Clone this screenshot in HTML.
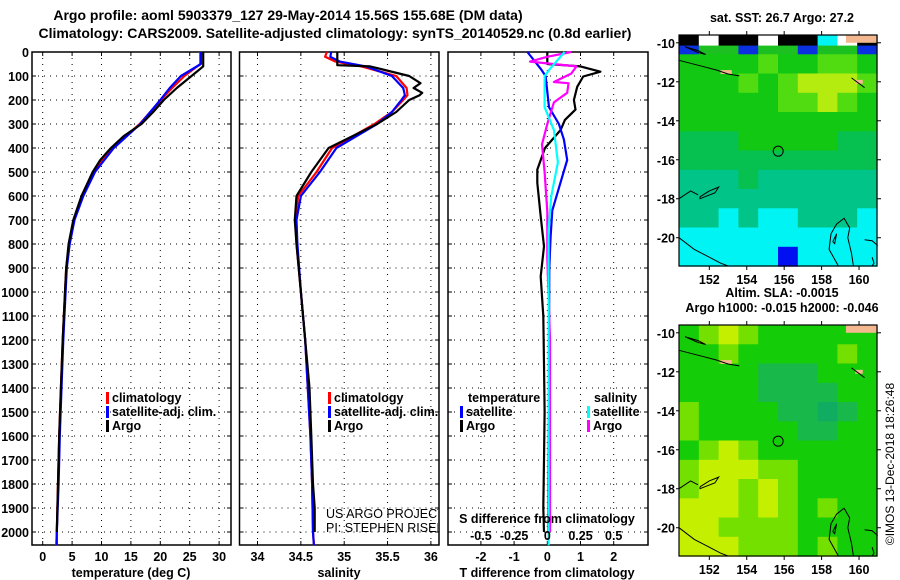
<!DOCTYPE html>
<html><head><meta charset="utf-8"><title>Argo profile</title>
<style>
html,body{margin:0;padding:0;background:#fff;}
svg{display:block;font-family:"Liberation Sans",Arial,sans-serif;}
.b{font-weight:bold;font-size:12.5px;}
.t{font-weight:bold;font-size:14px;}
</style></head>
<body>
<svg id="chart" width="900" height="580" viewBox="0 0 900 580" xmlns="http://www.w3.org/2000/svg">
<text class="t" x="288" y="20" text-anchor="middle">Argo profile: aoml 5903379_127 29-May-2014 15.56S 155.68E (DM data)</text>
<text class="t" x="335" y="38" text-anchor="middle">Climatology: CARS2009. Satellite-adjusted climatology: synTS_20140529.nc (0.8d earlier)</text>
<g id="p1"></g>
<g id="p2"></g>
<g id="p3"></g>
<g id="m1"></g>
<g id="m2"></g>
<text x="894" y="464" font-size="12" text-anchor="middle" transform="rotate(-90 894 464)">©IMOS 13-Dec-2018 18:26:48</text>
</svg>
<script>
// ---- depth profiles (depth m, value) ----
const argoTDepth = [0,60,70,100,150,200,250,300,350,400,450,500,600,700,800,900,1000,1200,1400,1600,1800,1900,2000];
const argoTVal   = [27.3,27.3,26.8,25.3,22.8,20.6,18.8,16.8,13.8,11.6,9.8,8.5,6.6,5.2,4.4,4.0,3.8,3.4,3.1,2.8,2.6,2.5,2.4];
const climTDepth = [0,50,100,150,200,250,300,400,500,600,700,800,900,1000,1200,1400,1600,1800,2000,2055];
const climTVal   = [26.8,26.8,24.1,22.0,20.1,18.3,16.5,11.8,8.6,6.7,5.3,4.5,4.0,3.8,3.4,3.1,2.8,2.6,2.4,2.3];
const satTVal    = [26.9,26.9,23.5,21.6,20.0,18.3,16.6,12.1,8.9,6.9,5.4,4.6,4.1,3.9,3.5,3.2,2.9,2.7,2.4,2.4];
const argoSDepth = [0,20,55,60,100,130,150,170,180,200,250,300,400,500,600,700,800,1000,1200,1400,1600,1800,1900,2000];
const argoSVal   = [34.92,34.92,34.92,35.3,35.75,35.88,35.8,35.9,35.87,35.75,35.6,35.38,34.82,34.62,34.45,34.43,34.45,34.5,34.55,34.6,34.62,34.64,34.66,34.66];
const climSDepth = [0,20,40,60,100,150,180,200,250,300,400,500,600,700,800,1000,1200,1400,1600,1800,2000,2055];
const climSVal   = [34.8,34.78,34.9,35.2,35.6,35.72,35.73,35.68,35.55,35.35,34.86,34.68,34.47,34.44,34.45,34.5,34.55,34.58,34.61,34.63,34.64,34.65];
const satSVal    = [34.85,34.84,34.95,35.25,35.55,35.68,35.7,35.66,35.55,35.38,34.91,34.72,34.5,34.45,34.46,34.5,34.55,34.58,34.61,34.63,34.64,34.65];
// ---- differences ----
const dTArgoDepth = [0,50,60,82,102,145,200,240,283,325,400,490,545,685,810,935,1100,1300,1500,1700,1900,2000];
const dTArgoVal   = [0,0,1.0,1.6,1.08,0.9,0.8,0.85,0.53,0.4,-0.07,-0.3,-0.3,-0.2,-0.1,-0.2,-0.12,-0.1,-0.08,-0.1,-0.12,-0.1];
const dTSatDepth  = [0,70,100,230,300,365,450,520,660,770,900,1200,1500,1800,2000];
const dTSatVal    = [-0.6,-0.2,-0.05,0.05,0.35,0.5,0.6,0.45,0.15,0.1,0.06,0.05,0.04,0.03,0.03];
const dSArgoDepth = [0,20,40,60,90,125,130,170,210,300,385,500,665,860,1200,1600,2000];
const dSArgoVal   = [0.18,0.0,-0.13,0.22,0.18,0.05,0.16,0.15,0.05,0.0,-0.04,-0.02,0.0,0.0,0.02,0.02,0.02];
const dSSatDepth  = [0,70,100,230,325,460,600,740,1000,1500,2000,2055];
const dSSatVal    = [0.13,0.02,-0.02,-0.02,0.05,0.08,0.03,0.01,0.01,0.01,0.01,0.01];
// ---- ticks ----
const depthTicks = [0,100,200,300,400,500,600,700,800,900,1000,1100,1200,1300,1400,1500,1600,1700,1800,1900,2000];
const tempTicks = [0,5,10,15,20,25,30];
const salTicks = [34,34.5,35,35.5,36];
const salTickLabels = ["34","34.5","35","35.5","36"];
const dTTicks = [-2,-1,0,1,2];
const dSTicks = [-0.5,-0.25,0,0.25,0.5];
const dSTickLabels = ["-0.5","-0.25","0","0.25","0.5"];
const lonTicks = [152,154,156,158,160];
const latTicks = [-10,-12,-14,-16,-18,-20];
// ---- map cells (codes per row, 1 deg lat rows) ----
const sstRows = ["KWKKWKKCWK","GGGGLGGLLG","GGGLGLYYYL","GGGGGLLYLG","GGGGGGGGGG","MMMGGGGGMM","MMMMMMMMMM","TTTMTTTTTT","TTTTTTTTTT","TTCTCCTTTC","CCCCCCCCCC","CCCCCBCCCC"];
const slaRows = ["GLYLGGGGGG","GGLGGGGGLG","GGGGMMMGGG","GGGGMMMMGG","LGGGGMMTMG","LGGGGGMMGG","GLYLGGGGGG","LYYYLLGGGG","LYYLYLGGGG","YYYLYLGLGG","YYLLLLGGGG","YYYLLLGLGG"];

const NS='http://www.w3.org/2000/svg';
function mk(parent,tag,attrs){const e=document.createElementNS(NS,tag);for(const k in attrs)e.setAttribute(k,attrs[k]);parent.appendChild(e);return e;}
const yD = d => 52 + d*0.24;
const xT = t => 42.7 + t*5.88;
const xS = s => 257.5 + (s-34)*86.7;
const xDT = t => 547.3 + t*33.2;
const xDS = s => 547.3 + s*132.8;
const TOP=52, BOT=545;

function frame(g,x0,x1,vticks,xf,showDepth){
  for(const d of depthTicks){
    const l=mk(g,'line',{x1:x0,x2:x1,y1:yD(d),y2:yD(d),stroke:'#000','stroke-width':1,'stroke-dasharray':'1 5'});
    
    
    mk(g,'line',{x1:x0,x2:x0+4,y1:yD(d),y2:yD(d),stroke:'#000'});
    mk(g,'line',{x1:x1-4,x2:x1,y1:yD(d),y2:yD(d),stroke:'#000'});
    if(showDepth){const t=mk(g,'text',{x:29,y:yD(d)+5,'text-anchor':'end',class:'b'});t.textContent=d;
      
      }
  }
  for(const v of vticks){
    const l=mk(g,'line',{x1:xf(v),x2:xf(v),y1:TOP,y2:BOT,stroke:'#000','stroke-width':1,'stroke-dasharray':'1 5'});
    
    
    mk(g,'line',{x1:xf(v),x2:xf(v),y1:BOT-4,y2:BOT,stroke:'#000'});
    mk(g,'line',{x1:xf(v),x2:xf(v),y1:TOP,y2:TOP+4,stroke:'#000'});
  }
  const r=mk(g,'rect',{x:x0,y:TOP,width:x1-x0,height:BOT-TOP,fill:'none',stroke:'#000','stroke-width':1.5});
  
  
}
function line(g,depths,vals,xf,color,w,name){
  let p='';
  for(let i=0;i<depths.length;i++){p+=(i?'L':'M')+xf(vals[i]).toFixed(1)+','+yD(depths[i]).toFixed(1);}
  const e=mk(g,'path',{d:p,fill:'none',stroke:color,'stroke-width':w,'stroke-linejoin':'round'});
  
  
}
function txt(g,x,y,s,cls,anchor,name,extra){
  const t=mk(g,'text',Object.assign({x:x,y:y,class:cls||'b','text-anchor':anchor||'start'},extra||{}));t.textContent=s;
  
  
  return t;
}
function legend(g,x,y,color,label,name){
  const r=mk(g,'rect',{x:x,y:y-10,width:3,height:12,fill:color});
  
  
  txt(g,x+6,y,label,'b','start',name);
}

// Panel 1
const p1=document.getElementById('p1');
frame(p1,32,231,tempTicks,xT,true);
line(p1,climTDepth,climTVal,xT,'#f00',2.2,'temperature-climatology-line');
line(p1,climTDepth,satTVal,xT,'#00f',2.2,'temperature-satellite-line');
line(p1,argoTDepth,argoTVal,xT,'#000',2.2,'temperature-argo-line');
tempTicks.forEach(v=>txt(p1,xT(v),561,String(v),'b','middle','temperature-tick-label'));
txt(p1,131,577,'temperature (deg C)','b','middle','temperature-axis-title');
legend(p1,106,402,'#f00','climatology','legend-climatology');
legend(p1,106,416,'#00f','satellite-adj. clim.','legend-satellite');
legend(p1,106,430,'#000','Argo','legend-argo');

// Panel 2
const p2=document.getElementById('p2');
frame(p2,239.5,439,salTicks,xS,false);
line(p2,climSDepth,climSVal,xS,'#f00',2.2,'salinity-climatology-line');
line(p2,climSDepth,satSVal,xS,'#00f',2.2,'salinity-satellite-line');
line(p2,argoSDepth,argoSVal,xS,'#000',2.2,'salinity-argo-line');
salTicks.forEach((v,i)=>txt(p2,xS(v),561,salTickLabels[i],'b','middle','salinity-tick-label'));
txt(p2,339,577,'salinity','b','middle','salinity-axis-title');
legend(p2,328,402,'#f00','climatology','legend-climatology');
legend(p2,328,416,'#00f','satellite-adj. clim.','legend-satellite');
legend(p2,328,430,'#000','Argo','legend-argo');
const cp=mk(p2,'clipPath',{id:'cp2'});mk(cp,'rect',{x:240,y:52,width:198,height:493});
const cr=mk(p2,'g',{'clip-path':'url(#cp2)'});
txt(cr,326,518,'US ARGO PROJECT',null,'start','project-credit',{'font-size':'12.5','font-weight':'normal'}).removeAttribute('class');
txt(cr,326,532,'PI: STEPHEN RISER',null,'start','pi-credit',{'font-size':'12.5','font-weight':'normal'}).removeAttribute('class');

// Panel 3
const p3=document.getElementById('p3');
frame(p3,448,648,dTTicks,xDT,false);
line(p3,dTArgoDepth,dTArgoVal,xDT,'#000',2.2,'t-diff-argo-line');
line(p3,dTSatDepth,dTSatVal,xDT,'#00f',2.2,'t-diff-satellite-line');
line(p3,dSArgoDepth,dSArgoVal,xDS,'#f0f',2.2,'s-diff-argo-line');
line(p3,dSSatDepth,dSSatVal,xDS,'#0ff',2.2,'s-diff-satellite-line');
dTTicks.forEach(v=>txt(p3,xDT(v),561,String(v),'b','middle','t-diff-tick-label'));
dSTicks.forEach((v,i)=>txt(p3,xDS(v),540,dSTickLabels[i],'b','middle','s-diff-tick-label'));
txt(p3,547,523,'S difference from climatology','b','middle','s-diff-axis-title');
txt(p3,547,577,'T difference from climatology','b','middle','t-diff-axis-title');
txt(p3,468,402,'temperature','b','start','legend-temperature-heading');
legend(p3,460,416,'#00f','satellite','legend-t-satellite');
legend(p3,460,430,'#000','Argo','legend-t-argo');
txt(p3,594,402,'salinity','b','start','legend-salinity-heading');
legend(p3,587,416,'#0ff','satellite','legend-s-satellite');
legend(p3,587,430,'#f0f','Argo','legend-s-argo');

// Maps
const LON0=150.38, LON1=160.96, LAT0=-9.6, LAT1=-21.45, MX0=679, MX1=877;
const sstColors={K:'#000',W:'#fff',C:'#00f4f4',G:'#12c812',L:'#50dc10',Y:'#b4ec10',M:'#06c050',T:'#00c488',B:'#0010f0'};
const slaColors={G:'#14cc08',L:'#74e000',Y:'#c4f000',M:'#18b84a',T:'#10ac62'};
const coast=[
 {lon:[150.38,151.0,151.6,152.4,153.0,153.6],lat:[-10.9,-11.05,-11.2,-11.4,-11.6,-11.7]},
 {lon:[150.7,151.4,151.8,151.4,150.7],lat:[-10.2,-10.4,-10.6,-10.5,-10.2]},
 {lon:[150.38,151.0,151.4],lat:[-18.0,-17.6,-17.8]},
 {lon:[151.5,152.0,152.5,152.3,151.5,151.5],lat:[-17.9,-17.6,-17.4,-17.7,-18.0,-17.9]},
 {lon:[150.38,151.2,152.0,152.6,153.0],lat:[-20.0,-20.6,-21.0,-21.3,-21.45]},
 {lon:[158.9,158.4,158.5,158.8,159.2,159.5,159.4,159.6,159.7],lat:[-21.45,-20.6,-19.8,-19.3,-19.0,-19.5,-20.0,-20.8,-21.45]},
 {lon:[158.6,158.8,158.7,158.6],lat:[-20.2,-19.8,-20.3,-20.2]},
 {lon:[160.3,160.7,161.0],lat:[-20.1,-20.15,-20.4]},
 {lon:[160.7,160.8,160.7],lat:[-21.0,-21.3,-21.45]},
 {lon:[159.6,160.3],lat:[-11.8,-12.3]}
];
function drawMap(id,top,rows,colors,title1,title2){
  const g=document.getElementById(id);
  const bot=top+231;
  const xL=l=>MX0+(l-LON0)*(MX1-MX0)/(LON1-LON0);
  const yL=l=>top+(l-LAT0)*231/(LAT1-LAT0);
  const nr=rows.length, nc=rows[0].length;
  const cw=(MX1-MX0)/nc, ch=231/nr;
  rows.forEach((row,r)=>{
    for(let c=0;c<nc;c++){
      const h=(id==='m1'&&r===0)?ch*0.55:ch;
      const e=mk(g,'rect',{x:(MX0+c*cw).toFixed(1),y:(top+r*ch).toFixed(1),width:(cw+0.6).toFixed(1),height:(h+0.6).toFixed(1),fill:colors[row[c]]});
      
      
    }
    if(id==='m1'&&r===0){
      for(let c=0;c<nc;c++){
        const e=mk(g,'rect',{x:(MX0+c*cw).toFixed(1),y:(top+ch*0.55).toFixed(1),width:(cw+0.6).toFixed(1),height:(ch*0.45+0.6).toFixed(1),fill:(c%3===0?'#0a30e0':'#1cc020')});
        
        
      }
    }
  });
  // land patches
  const land=[[159.3,-9.6,161,-10.0],[159.8,-11.9,160.2,-12.1],[152.6,-11.4,153.2,-11.6]];
  land.forEach(a=>{const e=mk(g,'rect',{x:xL(a[0]),y:yL(a[1]),width:xL(a[2])-xL(a[0]),height:yL(a[3])-yL(a[1]),fill:'#f4b890'});
    
    });
  coast.forEach(c=>{let p='';c.lon.forEach((l,i)=>p+=(i?'L':'M')+xL(l).toFixed(1)+','+yL(c.lat[i]).toFixed(1));
    const e=mk(g,'path',{d:p,fill:'none',stroke:'#000','stroke-width':1});
    
    });
  const ci=mk(g,'circle',{cx:xL(155.68),cy:yL(-15.56),r:5,fill:'none',stroke:'#000','stroke-width':1});
  
  
  const fr=mk(g,'rect',{x:MX0,y:top,width:MX1-MX0,height:231,fill:'none',stroke:'#000','stroke-width':1.2});
  
  
  lonTicks.forEach(l=>{mk(g,'line',{x1:xL(l),x2:xL(l),y1:top-4,y2:top,stroke:'#000'});mk(g,'line',{x1:xL(l),x2:xL(l),y1:bot,y2:bot+4,stroke:'#000'});
    txt(g,xL(l),bot+18,String(l),'b','middle','longitude-tick-label');});
  latTicks.forEach(l=>{mk(g,'line',{x1:MX1,x2:MX1+4,y1:yL(l),y2:yL(l),stroke:'#000'});mk(g,'line',{x1:MX0-3,x2:MX0,y1:yL(l),y2:yL(l),stroke:'#000'});
    txt(g,675,yL(l)+5,String(l),'b','end','latitude-tick-label');});
  txt(g,782,top-13-(title2?15:0),title1,'b','middle','map-title');
  if(title2) txt(g,782,top-13,title2,'b','middle','map-subtitle');
}
drawMap('m1',35,sstRows,sstColors,'sat. SST: 26.7 Argo: 27.2');
drawMap('m2',325,slaRows,slaColors,'Altim. SLA: -0.0015','Argo h1000: -0.015 h2000: -0.046');
</script>
</body></html>
